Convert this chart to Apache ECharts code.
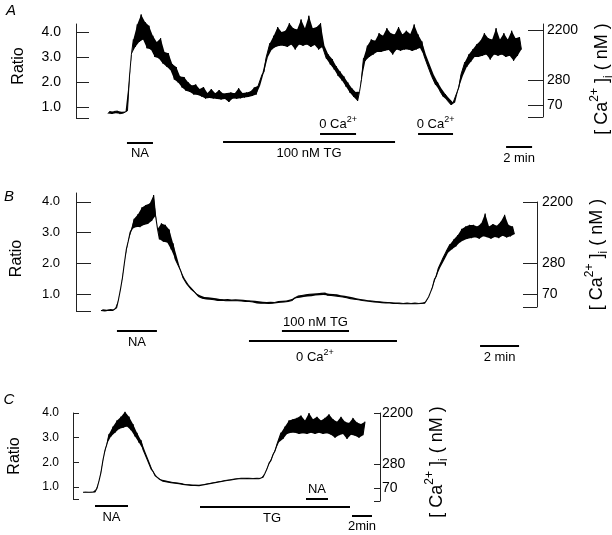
<!DOCTYPE html>
<html><head><meta charset="utf-8">
<script src="https://cdn.jsdelivr.net/npm/echarts@6/dist/echarts.min.js"></script>
<style>html,body{margin:0;padding:0;background:#fff}#c{width:612px;height:535px}</style>
</head><body><div id="c"></div>
<script>
const FONT = '"Liberation Sans", Arial, Helvetica, sans-serif';

// ---------- DATA ----------
// Panel A: fura-2 ratio, one sample every 0.15 min from 2.46 min
const traceA_start = 2.46, traceA_step = 0.15;
const traceA = [
0.74,0.83,0.72,0.82,0.75,0.84,0.73,0.81,0.76,0.82,
0.85,2.2,3.1,3.7,3.4,4.3,3.6,4.7,3.7,4.4,
3.35,4.25,3.3,3.85,3.0,3.6,2.95,3.75,2.75,3.2,
2.62,3.15,2.48,2.72,2.1,2.6,1.98,2.22,1.78,2.2,
1.65,2.0,1.6,1.86,1.5,1.9,1.48,1.72,1.42,1.8,
1.34,1.56,1.36,1.72,1.34,1.55,1.32,1.68,1.3,1.54,
1.32,1.56,1.2,1.58,1.34,1.55,1.33,1.75,1.35,1.56,
1.38,1.58,1.4,1.62,1.44,1.78,1.5,1.85,1.85,2.3,
2.4,2.95,3.0,3.55,3.3,3.85,3.4,4.2,3.45,4.0,
3.45,4.05,3.4,4.35,3.5,4.15,3.3,4.1,3.5,4.5,
3.45,4.15,3.5,4.65,3.4,4.15,3.48,4.2,3.3,4.35,
3.4,3.45,2.93,3.1,2.7,2.92,2.5,2.64,2.24,2.42,
2.06,2.22,1.82,1.98,1.58,1.76,1.4,1.6,1.24,1.62,
2.1,2.95,2.85,3.45,3.0,3.7,3.1,3.65,3.2,3.95,
3.2,3.85,3.25,4.15,3.28,3.95,3.1,3.9,3.3,4.2,
3.25,3.9,3.3,4.05,3.3,3.92,3.24,4.3,3.3,3.9,
3.36,3.62,3.06,3.1,2.63,2.7,2.22,2.3,1.88,2.0,
1.66,1.74,1.4,1.52,1.26,1.34,1.08,1.18,1.18,1.6,
1.8,2.3,2.25,2.8,2.6,3.1,2.8,3.3,3.0,3.5,
3.0,3.65,3.05,3.95,3.1,3.75,2.9,3.7,3.1,4.15,
3.05,3.7,3.1,3.95,3.0,3.7,3.05,4.05,2.85,3.75,
3.05,3.8,3.3
];
// Panel B: one sample every 0.1 min from 1.28 min
const traceB_start = 1.28, traceB_step = 0.1;
const traceB = [
0.46,0.5,0.45,0.49,0.47,0.51,0.46,0.49,0.55,0.82,
1.15,1.52,2.0,2.45,2.72,3.02,3.12,3.45,3.18,3.6,
3.18,3.82,3.25,3.9,3.28,3.95,3.38,4.22,3.55,3.12,
2.78,3.3,2.7,3.25,2.68,3.1,2.45,2.65,2.15,2.2,
1.88,1.74,1.54,1.5,1.33,1.3,1.17,1.16,1.06,1.02,
0.92,0.95,0.86,0.9,0.84,0.89,0.83,0.88,0.81,0.86,
0.79,0.84,0.8,0.83,0.78,0.84,0.79,0.82,0.78,0.83,
0.78,0.82,0.77,0.81,0.76,0.8,0.76,0.79,0.74,0.78,
0.71,0.76,0.7,0.75,0.7,0.74,0.69,0.75,0.7,0.74,
0.72,0.77,0.73,0.78,0.74,0.79,0.76,0.82,0.79,0.86,
0.86,0.93,0.88,0.95,0.9,0.97,0.92,0.99,0.93,1.0,
0.95,1.01,0.96,1.02,0.97,1.03,0.96,1.01,0.95,1.0,
0.94,0.99,0.92,0.96,0.9,0.94,0.88,0.92,0.85,0.89,
0.83,0.86,0.81,0.84,0.79,0.82,0.77,0.8,0.76,0.79,
0.74,0.77,0.73,0.76,0.72,0.75,0.71,0.74,0.71,0.73,
0.69,0.72,0.69,0.72,0.68,0.71,0.69,0.72,0.68,0.71,
0.69,0.72,0.68,0.71,0.69,0.72,0.7,0.76,0.9,1.06,
1.22,1.48,1.58,1.84,1.86,2.12,2.1,2.38,2.34,2.62,
2.46,2.78,2.55,2.92,2.68,3.12,2.75,3.2,2.8,3.25,
2.82,3.25,2.85,3.2,2.8,3.3,2.88,3.62,2.85,3.2,
2.8,3.28,2.86,3.22,2.82,3.35,2.9,3.58,2.84,3.25,
2.88,3.2,2.95
];
// Panel C: one sample every 0.2 min from 1.0 min
const traceC_start = 1.0, traceC_step = 0.2;
const traceC = [
0.79,0.81,0.79,0.8,0.79,0.81,0.8,0.95,1.25,1.6,
2.1,2.5,2.75,3.15,3.05,3.45,3.2,3.7,3.35,3.85,
3.4,4.05,3.45,3.85,3.3,3.55,3.05,3.2,2.8,2.9,
2.52,2.46,2.14,2.06,1.74,1.64,1.47,1.42,1.33,1.31,
1.24,1.28,1.21,1.24,1.18,1.21,1.16,1.19,1.14,1.17,
1.11,1.13,1.09,1.12,1.07,1.1,1.07,1.09,1.06,1.09,
1.09,1.13,1.12,1.16,1.15,1.19,1.18,1.22,1.21,1.25,
1.24,1.29,1.27,1.31,1.29,1.34,1.32,1.36,1.34,1.38,
1.34,1.38,1.35,1.38,1.34,1.37,1.35,1.38,1.34,1.37,
1.4,1.56,1.74,1.97,2.08,2.32,2.46,2.74,2.82,3.2,
2.95,3.45,3.15,3.7,3.2,3.75,3.2,3.8,3.15,3.9,
3.18,3.7,3.15,4.0,3.2,3.75,3.15,3.85,3.2,3.7,
3.15,3.8,3.18,3.95,3.12,3.75,3.0,3.65,3.1,3.85,
3.15,3.65,2.95,3.6,3.12,3.8,3.08,3.62,3.0,3.55,
3.1,3.65
];

// Tick labels
const ratioTicks = [1, 2, 3, 4];
const caTickLabels = ['70', '280', '2200'];
// Ratio-equivalent positions of the [Ca2+]i ticks, per panel
const caTickRatioA = [1.08, 2.08, 4.08];
const caTickRatioB = [1.0, 2.01, 4.0];
const caTickRatioC = [0.96, 1.93, 4.0];

// Treatment bars (minutes)
const barsA = [
  {label: 'NA', start: 3.92, end: 5.92},
  {label: '100 nM TG', start: 11.31, end: 24.54},
  {label: '0 Ca{sup|2+}', start: 18.77, end: 21.54},
  {label: '0 Ca{sup|2+}', start: 26.31, end: 29.0},
  {label: '2 min', start: 33.08, end: 35.08}
];
const barsB = [
  {label: 'NA', start: 2.1, end: 4.15},
  {label: '100 nM TG', start: 10.56, end: 14.0},
  {label: '0 Ca{sup|2+}', start: 8.87, end: 16.46},
  {label: '2 min', start: 20.72, end: 22.72}
];
const barsC = [
  {label: 'NA', start: 2.2, end: 5.5},
  {label: 'TG', start: 12.7, end: 27.7},
  {label: 'NA', start: 23.3, end: 25.5},
  {label: '2min', start: 27.9, end: 29.9}
];

// ---------- LAYOUT (positions / styles) ----------
const barPosA = [{bar:25, text:35}, {bar:24, text:35.5}, {bar:16, text:6.5}, {bar:16, text:6}, {bar:29, text:40}];
const barPosB = [{bar:20, text:31}, {bar:20, text:11}, {bar:30, text:46.5, dx:-8}, {bar:35, text:46}];
const barPosC = [{bar:7, text:18.5}, {bar:8, text:19, dx:-3}, {bar:0.3, text:-9.5}, {bar:16.7, text:27}];

const panels = [
  {letter:'A', lx:11, ly:11, trace:traceA, t0:traceA_start, dt:traceA_step, bars:barsA, pos:barPosA, ca:caTickRatioA,
   grid:{left:76, right:69, top:24, height:94}, rgrid:{left:76, right:69, top:24, height:93},
   xMax:35.92, yMin:0.56, yMax:4.32, ryMin:0.6, ryMax:4.32,
   tickLen:13, rTickLen:15, labelSize:14, labelMargin:15, rLabelMargin:4,
   ratioGap:49, ratioPad:[0,0,0,10], caGap:44, caPad:[0,17,0,0], lw:1},
  {letter:'B', lx:9, ly:197, trace:traceB, t0:traceB_start, dt:traceB_step, bars:barsB, pos:barPosB, ca:caTickRatioB,
   grid:{left:76, right:75, top:193, height:118}, rgrid:{left:76, right:75, top:202, height:105},
   xMax:23.64, yMin:0.446, yMax:4.29, ryMin:0.58, ryMax:4.0,
   tickLen:15, rTickLen:14, labelSize:13, labelMargin:16, rLabelMargin:5,
   ratioGap:51, ratioPad:[0,13,0,0], caGap:44, caPad:[0,0,0,0], lw:1.1},
  {letter:'C', lx:9, ly:400, trace:traceC, t0:traceC_start, dt:traceC_step, bars:barsC, pos:barPosC, ca:caTickRatioC,
   grid:{left:73, right:232, top:413, height:86}, rgrid:{left:73, right:232, top:413, height:88},
   xMax:30.7, yMin:0.518, yMax:4.0, ryMin:0.437, ryMax:4.0,
   tickLen:6, rTickLen:6, labelSize:12, labelMargin:14, rLabelMargin:2,
   ratioGap:50, ratioPad:[0,0,0,0], caGap:44, caPad:[0,10,0,0], lw:1.1}
];

const AX = '#222';
const grids = [], xAxes = [], yAxes = [], series = [];
panels.forEach((p, k) => {
  const gi = 2 * k, gr = 2 * k + 1;
  grids.push(Object.assign({outerBoundsMode:'none', containLabel:false}, p.grid));
  grids.push(Object.assign({outerBoundsMode:'none', containLabel:false}, p.rgrid));
  [gi, gr].forEach(g => xAxes.push({type:'value', gridIndex:g, min:0, max:p.xMax, show:false, axisLine:{onZero:false}}));
  yAxes.push({
    type:'value', gridIndex:gi, position:'left', min:p.yMin, max:p.yMax,
    name:'Ratio', nameLocation:'middle', nameGap:p.ratioGap,
    nameTextStyle:{fontSize:16, fontFamily:FONT, color:'#000', padding:p.ratioPad},
    axisLine:{show:true, onZero:false, lineStyle:{color:AX, width:1}},
    axisTick:{show:true, inside:true, length:p.tickLen, customValues:[p.yMin].concat(ratioTicks), lineStyle:{color:AX, width:1}},
    axisLabel:{show:true, customValues:ratioTicks, formatter:v => Number(v).toFixed(1), fontSize:p.labelSize, margin:p.labelMargin, color:'#000', fontFamily:FONT},
    splitLine:{show:false}
  });
  const ca = p.ca;
  yAxes.push({
    type:'value', gridIndex:gr, position:'right', min:p.ryMin, max:p.ryMax,
    name:'[ Ca{sup|2+} ]{sub|i} ( nM )', nameLocation:'middle', nameGap:p.caGap, nameRotate:90,
    nameTextStyle:{fontSize:18, lineHeight:26, fontFamily:FONT, color:'#000', padding:p.caPad,
      rich:{sup:{fontSize:12, lineHeight:12, verticalAlign:'top', fontFamily:FONT, color:'#000'},
            sub:{fontSize:12, lineHeight:12, verticalAlign:'bottom', fontFamily:FONT, color:'#000'}}},
    axisLine:{show:true, onZero:false, lineStyle:{color:AX, width:1}},
    axisTick:{show:true, inside:true, length:p.rTickLen, customValues:[p.ryMin].concat(ca), lineStyle:{color:AX, width:1}},
    axisLabel:{show:true, customValues:ca, fontSize:14, margin:p.rLabelMargin, color:'#000', fontFamily:FONT,
      formatter:v => { let best = 0; ca.forEach((c, i) => { if (Math.abs(c - v) < Math.abs(ca[best] - v)) best = i; }); return caTickLabels[best]; }},
    splitLine:{show:false}
  });
  const pts = p.trace.map((v, i) => [p.t0 + i * p.dt, v]);
  // dense noise band: filled between alternate samples of the same trace
  series.push({
    type:'custom', xAxisIndex:gi, yAxisIndex:gi, clip:false, silent:true,
    data:[[p.t0, p.trace[0]]],
    renderItem:(params, api) => {
      const c = pts.map(d => api.coord(d));
      const odd = c.filter((_, i) => i % 2 === 1);
      const even = c.filter((_, i) => i % 2 === 0).reverse();
      return {type:'polygon', shape:{points:odd.concat(even)}, style:{fill:'#000', stroke:null}};
    }
  });
  series.push({
    type:'line', xAxisIndex:gi, yAxisIndex:gi, showSymbol:false, symbol:'none', clip:false,
    sampling:null, smooth:false,
    lineStyle:{color:'#000', width:p.lw},
    data:pts,
    silent:true
  });
});

const chart = echarts.init(document.getElementById('c'), null, {renderer:'canvas'});
chart.setOption({
  animation:false, backgroundColor:'#fff',
  grid:grids, xAxis:xAxes, yAxis:yAxes, series:series
});

const supRich = {sup:{fontSize:9, lineHeight:9, verticalAlign:'top', fontFamily:FONT, fill:'#000'}};
const graphics = [];
panels.forEach((p, k) => {
  const gi = 2 * k;
  const bottomY = chart.convertToPixel({yAxisIndex:gi}, p.yMin);
  graphics.push({type:'text', x:p.lx, y:p.ly, silent:true,
    style:{text:p.letter, fontSize:15, fontStyle:'italic', fontFamily:FONT, fill:'#000', align:'center', verticalAlign:'middle'}});
  p.bars.forEach((b, j) => {
    const L = p.pos[j];
    const x1 = chart.convertToPixel({xAxisIndex:gi}, b.start);
    const x2 = chart.convertToPixel({xAxisIndex:gi}, b.end);
    const yb = Math.round(bottomY + L.bar);
    graphics.push({type:'line', silent:true, shape:{x1:x1, y1:yb, x2:x2, y2:yb}, style:{stroke:'#000', lineWidth:2}});
    graphics.push({type:'text', silent:true, x:(x1 + x2) / 2 + (L.dx || 0), y:bottomY + L.text,
      style:{text:b.label, fontSize:13, lineHeight:18, fontFamily:FONT, fill:'#000', align:'center', verticalAlign:'middle', rich:supRich}});
  });
});
chart.setOption({graphic:graphics});
</script>
</body></html>
